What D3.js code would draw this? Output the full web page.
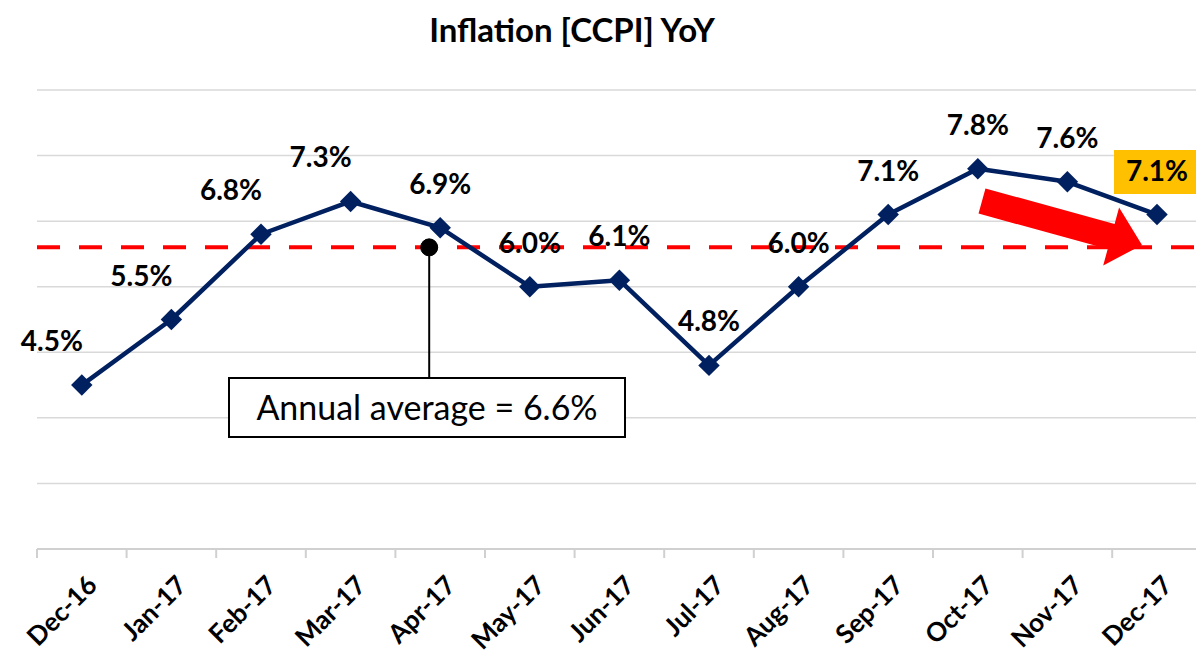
<!DOCTYPE html>
<html><head><meta charset="utf-8">
<script src="https://cdn.jsdelivr.net/npm/d3@7"></script>
<style>
html,body{margin:0;padding:0;background:#fff;}
svg{display:block;font-family:Lato,"Open Sans",sans-serif;}
</style></head>
<body><svg id="chart" width="1196" height="657"></svg>
<script>
const categories = ["Dec-16","Jan-17","Feb-17","Mar-17","Apr-17","May-17","Jun-17","Jul-17","Aug-17","Sep-17","Oct-17","Nov-17","Dec-17"];
const inflation = [4.5,5.5,6.8,7.3,6.9,6.0,6.1,4.8,6.0,7.1,7.8,7.6,7.1];
const annualAverage = 6.6;
const yTicks = [2,3,4,5,6,7,8,9];
const title = "Inflation [CCPI] YoY";

const W = 1196, H = 657;
const svg = d3.select("#chart");
const left = 37, bandW = 89.6;
const x = d3.scaleBand().domain(categories).range([left, left + bandW*categories.length]).paddingInner(0).paddingOuter(0);
const y = d3.scaleLinear().domain([2,9]).range([549,90]);
const xc = c => x(c) + x.bandwidth()/2;
const plotRight = W;

// title
svg.append("text").attr("x",572).attr("y",42).attr("text-anchor","middle")
  .attr("font-weight","bold").attr("font-size",33).attr("fill","#000").text(title);

// gridlines
svg.append("g").selectAll("line").data(yTicks.slice(1)).join("line")
  .attr("x1",left).attr("x2",plotRight).attr("y1",d=>y(d)).attr("y2",d=>y(d))
  .attr("stroke","#d9d9d9").attr("stroke-width",1.5);

// x axis
const xAxis = svg.append("g").attr("transform",`translate(0,${y(2)})`);
xAxis.append("line").attr("x1",left).attr("x2",plotRight).attr("stroke","#d0d0d0").attr("stroke-width",2);
xAxis.selectAll("line.tk").data(categories).join("line").attr("class","tk")
  .attr("x1",d=>x(d)).attr("x2",d=>x(d)).attr("y1",0).attr("y2",9)
  .attr("stroke","#d0d0d0").attr("stroke-width",2);
xAxis.selectAll("text").data(categories).join("text")
  .attr("transform",d=>`translate(${xc(d)+4},${25}) rotate(-45)`)
  .attr("text-anchor","end").attr("dy","0.7em")
  .attr("font-weight","bold").attr("font-size",26).attr("fill","#000").text(d=>d);

// average dashed line
svg.append("line").attr("x1",left).attr("x2",plotRight).attr("y1",y(annualAverage)).attr("y2",y(annualAverage))
  .attr("stroke","#ff0000").attr("stroke-width",4).attr("stroke-dasharray","23,19");

// series line
const line = d3.line().x((d,i)=>xc(categories[i])).y(d=>y(d));
svg.append("path").datum(inflation).attr("d",line).attr("fill","none")
  .attr("stroke","#002060").attr("stroke-width",4.5).attr("stroke-linejoin","round");

// markers
const dsym = d3.symbol().type(d3.symbolSquare).size(230);
svg.append("g").selectAll("path").data(inflation).join("path")
  .attr("d",dsym)
  .attr("transform",(d,i)=>`translate(${xc(categories[i])},${y(d)}) rotate(45)`)
  .attr("fill","#002060");

// callout annotation
const cx = xc("Apr-17")-11, cy = y(annualAverage);
svg.append("line").attr("x1",cx).attr("x2",cx).attr("y1",cy).attr("y2",378).attr("stroke","#000").attr("stroke-width",2);
svg.append("circle").attr("cx",cx).attr("cy",cy).attr("r",8.5).attr("fill","#000").attr("stroke","#000");
svg.append("rect").attr("x",229).attr("y",378).attr("width",396).attr("height",59)
  .attr("fill","#fff").attr("stroke","#000").attr("stroke-width",2);
svg.append("text").attr("x",427).attr("y",420).attr("text-anchor","middle")
  .attr("font-size",34).attr("fill","#000").text("Annual average = " + annualAverage.toFixed(1) + "%");

// highlight box behind last label
const last = inflation.length-1;
svg.append("rect").attr("x",xc(categories[last])-43).attr("y",150).attr("width",W-(xc(categories[last])-43)).attr("height",44)
  .attr("fill","#ffc000");

// data labels
svg.append("g").selectAll("text").data(inflation).join("text")
  .attr("x",(d,i)=>xc(categories[i]) + (i<4 ? -30 : 0))
  .attr("y",d=>y(d)-34)
  .attr("text-anchor","middle").attr("font-weight","bold").attr("font-size",28).attr("fill","#000")
  .text(d=>d.toFixed(1)+"%");

// red block arrow
const ax0 = 982, ay0 = 201, ax1 = 1142, ay1 = 245;
const ang = Math.atan2(ay1-ay0, ax1-ax0)*180/Math.PI;
const len = Math.hypot(ax1-ax0, ay1-ay0);
const bw = 13, hw = 30, hl = 32;
svg.append("path")
  .attr("transform",`translate(${ax0},${ay0}) rotate(${ang})`)
  .attr("d",`M0,${-bw} L${len-hl},${-bw} L${len-hl},${-hw} L${len},0 L${len-hl},${hw} L${len-hl},${bw} L0,${bw} Z`)
  .attr("fill","#ff0000");
</script></body></html>
